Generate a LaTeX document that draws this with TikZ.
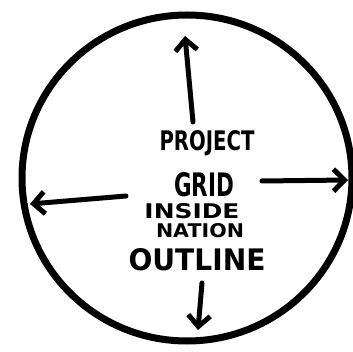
\documentclass[tikz,border=0pt]{standalone}
\usepackage{graphicx}
\usepackage{fontspec}
\setmainfont{DejaVu Sans}
\usetikzlibrary{arrows.meta}
\tikzset{
  ink/.style={line width=5pt, line cap=round, line join=round},
  arr/.style={ink, -{Straight Barb[length=11pt,width=22pt,line width=5pt]}},
  word/.style={inner sep=0pt, font=\bfseries}
}
\begin{document}
\begin{tikzpicture}[x=1pt,y=-1pt]
\useasboundingbox (0,0) rectangle (353,352);
\fill[white] (0,0) rectangle (353,352);
% outline circle
\draw[ink, line width=7pt] (187,178) ellipse [x radius=165, y radius=163];
% words
\node[word] (project) at (207,143) {\resizebox{95pt}{20pt}{PROJECT}};
\node[word] (grid) at (204,185) {\resizebox{60pt}{24pt}{GRID}};
\node[word] (inside) at (192,211) {\resizebox{95pt}{15pt}{INSIDE}};
\node[word] (nation) at (200,231) {\resizebox{88pt}{14pt}{NATION}};
\node[word] (outline) at (197,260) {\resizebox{137pt}{22pt}{OUTLINE}};
% arrow ends
\coordinate (upS) at (193,122);
\coordinate (upE) at (185,36);
\coordinate (leftS) at (126,196);
\coordinate (leftE) at (30,204);
\coordinate (rightS) at (262,181);
\coordinate (rightE) at (348,180);
\coordinate (downS) at (202,283);
\coordinate (downE) at (198,330);
\draw[arr] (upS) -- (upE);
\draw[arr] (leftS) -- (leftE);
\draw[arr] (rightS) -- (rightE);
\draw[arr] (downS) -- (downE);
\end{tikzpicture}
\end{document}
